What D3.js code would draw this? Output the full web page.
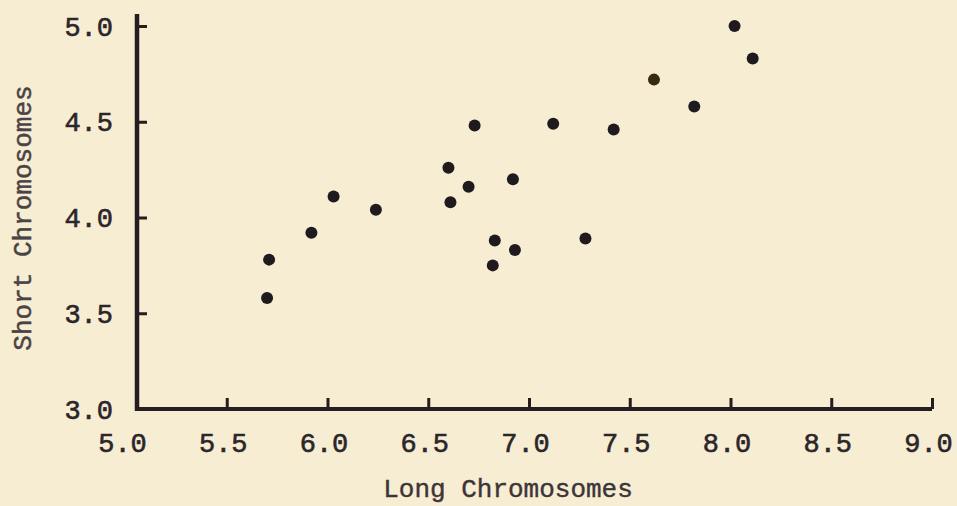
<!DOCTYPE html>
<html>
<head>
<meta charset="utf-8">
<script src="https://cdn.jsdelivr.net/npm/d3@7"></script>
<style>
  html, body { margin: 0; padding: 0; background: #f7edd3; }
  svg { display: block; }
  .tick text { font-family: "Liberation Mono", "DejaVu Sans Mono", monospace; fill: #2b262a; stroke: #2b262a; stroke-width: 0.6px; }
</style>
</head>
<body>
<div id="chart"></div>
<script>
// data
const longChrom  = [5.73, 5.72, 5.94, 6.05, 6.26, 6.62, 6.63, 6.72, 6.75, 6.85,
                    6.84, 6.94, 6.95, 7.14, 7.30, 7.44, 7.64, 7.84, 8.04, 8.13];
const shortChrom = [3.78, 3.58, 3.92, 4.11, 4.04, 4.26, 4.08, 4.16, 4.48, 3.88,
                    3.75, 4.20, 3.83, 4.49, 3.89, 4.46, 4.72, 4.58, 5.00, 4.83];
const xTicks = [5.0, 5.5, 6.0, 6.5, 7.0, 7.5, 8.0, 8.5, 9.0];
const yTicks = [3.0, 3.5, 4.0, 4.5, 5.0];
const xTitle = "Long Chromosomes";
const yTitle = "Short Chromosomes";

const width = 957, height = 506;
const axisLeftX = 137;   // the vertical axis sits a little right of x = 5.0
const axisBottomY = 409;
const ink = "#241e22";

const svg = d3.select("#chart").append("svg")
    .attr("width", width)
    .attr("height", height);

const x = d3.scaleLinear().domain([5, 9]).range([122, 928]);
const y = d3.scaleLinear().domain([3, 5]).range([axisBottomY, 26]);

// X axis: ticks point up into the plot, labels below
const gx = svg.append("g")
    .attr("transform", `translate(0,${axisBottomY})`)
    .call(d3.axisBottom(x).tickValues(xTicks).tickFormat(d3.format(".1f"))
        .tickSize(-11).tickSizeOuter(0).tickPadding(24));
gx.select(".domain").remove();
gx.selectAll(".tick line").attr("stroke", ink).attr("stroke-width", 3)
    .attr("transform", "translate(4,0)")
    .filter(d => d === 5).remove();
gx.selectAll(".tick text").style("font-size", "27px");

// Y axis: ticks point right, labels on the left
const gy = svg.append("g")
    .attr("transform", `translate(${axisLeftX},0)`)
    .call(d3.axisLeft(y).tickValues(yTicks).tickFormat(d3.format(".1f"))
        .tickSize(-10).tickSizeOuter(0).tickPadding(24));
gy.select(".domain").remove();
gy.selectAll(".tick line").attr("stroke", ink).attr("stroke-width", 3)
    .filter(d => d === 3).remove();
gy.selectAll(".tick text").style("font-size", "27px").attr("dy", "0.34em");

// the heavy axis lines
svg.append("line")
    .attr("x1", axisLeftX).attr("x2", axisLeftX)
    .attr("y1", 14).attr("y2", axisBottomY + 2)
    .attr("stroke", ink).attr("stroke-width", 4.5);
svg.append("line")
    .attr("x1", axisLeftX - 2).attr("x2", x(9) + 4)
    .attr("y1", axisBottomY).attr("y2", axisBottomY)
    .attr("stroke", ink).attr("stroke-width", 4);

// points
const pts = longChrom.map((v, i) => ({ x: v, y: shortChrom[i] }));
svg.append("g").selectAll("circle")
    .data(pts)
    .enter()
    .append("circle")
    .attr("cx", d => x(d.x))
    .attr("cy", d => y(d.y))
    .attr("r", 6)
    .attr("fill", (d, i) => i === 16 ? "#3a2912" : "#1f1a1e");

// axis titles
svg.append("text")
    .attr("x", 508)
    .attr("y", 497)
    .attr("text-anchor", "middle")
    .style("font-family", "Liberation Mono, monospace")
    .style("font-size", "26px")
    .style("fill", "#3c3538")
    .style("stroke", "#3c3538")
    .style("stroke-width", "0.4px")
    .text(xTitle);

svg.append("text")
    .attr("transform", "translate(31,218) rotate(-90)")
    .attr("text-anchor", "middle")
    .style("font-family", "Liberation Mono, monospace")
    .style("font-size", "26px")
    .style("fill", "#4a4346")
    .style("stroke", "#4a4346")
    .style("stroke-width", "0.5px")
    .text(yTitle);
</script>
</body>
</html>
